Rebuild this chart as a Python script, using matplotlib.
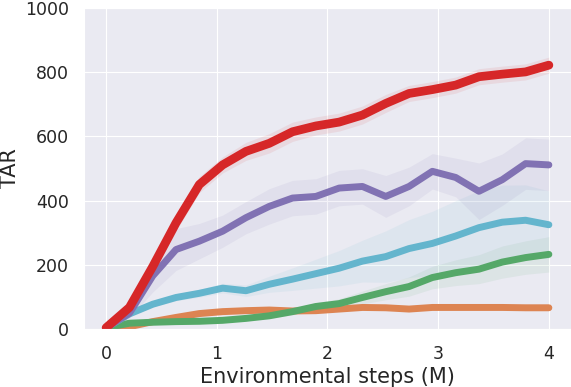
import numpy as np
import matplotlib
matplotlib.use("Agg")
import matplotlib.pyplot as plt
import seaborn as sns

sns.set_style("darkgrid")
plt.rcParams['font.family'] = ['DejaVu Sans']

# 20 evaluation points between 0 and 4M steps
steps = np.linspace(0, 4, 20)

red = [5, 68, 195, 331, 450, 511, 553, 578, 614, 632, 644, 666, 702, 733, 745, 759, 785, 793, 800, 821]
red_sd = [3, 10, 20, 25, 25, 25, 28, 30, 30, 28, 28, 28, 28, 25, 25, 25, 25, 25, 25, 25]

purple = [5, 50, 166, 248, 274, 305, 347, 382, 408, 413, 439, 444, 413, 444, 491, 472, 429, 465, 515, 511]
purple_sd = [3, 15, 50, 65, 55, 50, 50, 55, 55, 55, 55, 55, 65, 60, 55, 60, 88, 80, 80, 80]

cyan = [5, 48, 78, 99, 112, 128, 120, 140, 156, 173, 190, 212, 226, 251, 267, 290, 316, 333, 339, 325]
cyan_sd = [2, 5, 8, 10, 12, 15, 18, 25, 35, 45, 55, 65, 80, 90, 100, 110, 115, 115, 110, 105]

green = [5, 19, 22, 24, 25, 28, 34, 42, 55, 71, 80, 99, 117, 133, 161, 176, 187, 209, 223, 233]
green_sd = [1, 2, 3, 3, 4, 5, 6, 8, 10, 12, 15, 20, 25, 30, 35, 40, 45, 50, 52, 55]

orange = [0, 8, 24, 37, 49, 55, 58, 60, 57, 58, 63, 68, 67, 63, 68, 68, 68, 68, 67, 67]
orange_sd = [1, 2, 3, 4, 4, 4, 4, 4, 4, 4, 4, 4, 4, 4, 4, 4, 4, 4, 4, 4]

series = [
    (orange, orange_sd, "#dd8452", 5.0),
    (green, green_sd, "#55a868", 5.0),
    (cyan, cyan_sd, "#64b5cd", 5.0),
    (purple, purple_sd, "#8172b3", 5.0),
    (red, red_sd, "#d62728", 6.3),
]

fig = plt.figure(figsize=(5.71, 3.87), dpi=100)
ax = fig.add_axes([0.1471, 0.149, 0.8529, 0.8315])

for mean, sd, color, lw in series:
    mean = np.array(mean, dtype=float)
    sd = np.array(sd, dtype=float)
    ax.fill_between(steps, mean - sd, mean + sd, color=color, alpha=0.09, lw=0)
    ax.plot(steps, mean, color=color, lw=lw, solid_capstyle="round")

ax.set_xlim(-0.2, 4.2)
ax.set_ylim(0, 1000)
ax.set_xticks([0, 1, 2, 3, 4])
ax.set_yticks([0, 200, 400, 600, 800, 1000])
ax.tick_params(axis="both", labelsize=12.5, colors="#262626", length=0)
ax.tick_params(axis="y", pad=11)
ax.tick_params(axis="x", pad=11)
ax.set_xlabel("Environmental steps (M)", fontsize=15, color="#262626", labelpad=3.4)
ax.set_ylabel("TAR", fontsize=15, color="#262626", labelpad=3.5)

fig.savefig("out.png", dpi=100)
